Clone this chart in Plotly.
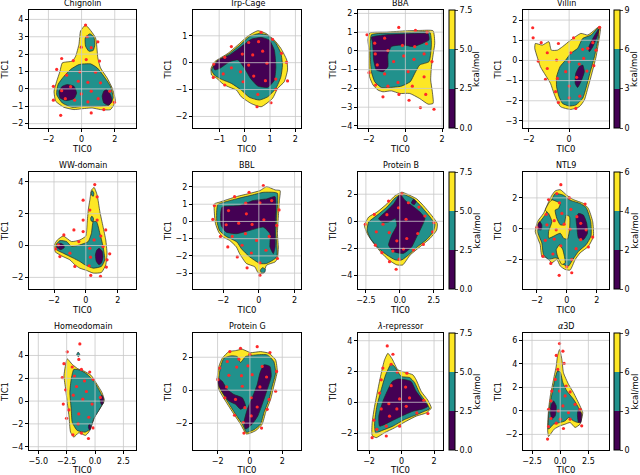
"""
Freie-Energie-Landschaften (TIC0/TIC1) für 12 Proteine, 3 Stufen + Stichprobenpunkte.
"""
import plotly.graph_objects as go

PURPLE = '#440154'
TEAL = '#21918c'
YELLOW = '#fde725'
EDGE = 'rgba(35,35,35,0.85)'
DOT = '#ff2a2a'
GRID = 'rgba(200,200,200,0.8)'
FONT = 'DejaVu Sans'

NAMES = ['Chignolin', 'Trp-Cage', 'BBA', 'Villin',
         'WW-domain', 'BBL', 'Protein B', 'NTL9',
         'Homeodomain', 'Protein G', '<i>λ</i>-repressor', '<i>α</i>3D']

# --- Chignolin
CHIG_OUTER = [(0.24, 3.67), (0.84, 2.94), (0.98, 1.79), (1.14, 1.21), (1.54, 0.63), (1.84, 0.06), (2.04, -0.71),
              (1.74, -1.19), (1.14, -1.19), (0.64, -1.10), (-0.06, -1.15), (-0.46, -1.19), (-1.06, -1.06),
              (-1.56, -0.71), (-1.66, -0.13), (-1.5, 0.44), (-1.3, 1.02), (-1.16, 1.5), (-0.56, 1.6),
              (-0.36, 1.88), (-0.16, 2.56), (-0.06, 3.33)]
CHIG_MID = [
    [(-0.16, 1.4), (0.54, 1.44), (0.94, 1.21), (1.34, 0.73), (1.74, 0.15), (1.9, -0.52), (1.64, -0.94),
     (0.94, -1.0), (0.14, -1.0), (-0.56, -1.06), (-1.16, -0.81), (-1.5, -0.33), (-1.42, 0.25),
     (-1.06, 0.73), (-0.66, 1.12)],
    [(0.5, 3.17), (0.74, 2.98), (0.8, 2.56), (0.7, 2.21), (0.44, 2.17), (0.24, 2.46), (0.22, 2.94)],
]
CHIG_LOW = [
    [(-0.86, 0.25), (-0.46, 0.15), (-0.3, -0.23), (-0.46, -0.56), (-0.96, -0.67), (-1.3, -0.52),
     (-1.36, -0.13), (-1.16, 0.15)],
    [(1.5, -0.04), (1.74, -0.33), (1.84, -0.71), (1.64, -0.94), (1.34, -0.81), (1.24, -0.42), (1.34, -0.13)],
]
CHIG_DOTS = [(0.24, 3.67), (0.34, 3.0), (0.98, 2.71), (0.58, 2.37), (-0.02, 2.4), (-1.2, 1.75), (-0.5, 1.63),
             (0.28, 1.69), (1.08, 1.6), (-1.5, 1.12), (-0.1, 0.98), (0.84, 0.96), (-0.9, 0.79), (-0.2, 0.44),
             (0.38, 0.38), (1.14, 0.35), (-1.7, 0.15), (-0.66, 0.13), (-1.2, -0.1), (0.58, -0.13),
             (-0.02, -0.29), (1.7, -0.13), (-1.7, -0.65), (-0.98, -0.56), (-0.42, -0.65), (0.38, -0.75),
             (1.0, -0.56), (1.98, -0.77), (1.34, -1.19), (0.58, -1.38), (-1.26, -1.52)]

# --- Trp-Cage
TRP_OUTER = [(-1.32, -0.21), (-1.17, 0.04), (-0.65, 0.35), (-0.19, 0.72), (0.13, 0.99), (0.52, 1.19),
             (0.84, 1.09), (1.17, 0.84), (1.43, 0.53), (1.66, 0.1), (1.69, -0.27), (1.56, -0.71), (1.3, -0.96),
             (1.1, -1.33), (0.65, -1.64), (0.26, -1.52), (-0.13, -1.27), (-0.32, -1.02), (-0.58, -0.92),
             (-0.84, -0.8), (-1.1, -0.58), (-1.3, -0.46)]
TRP_MID = [
    [(-1.3, -0.27), (-1.1, 0.04), (-0.58, 0.35), (-0.13, 0.7), (0.19, 0.97), (0.58, 1.09), (0.91, 1.02),
     (1.23, 0.72), (1.43, 0.35), (1.49, -0.09), (1.43, -0.52), (1.23, -0.96), (0.91, -1.27), (0.58, -1.39),
     (0.19, -1.29), (-0.13, -1.02), (-0.52, -0.77), (-0.91, -0.62), (-1.19, -0.46)],
]
TRP_LOW = [
    [(-1.23, -0.15), (-1.04, 0.1), (-0.58, 0.29), (-0.13, 0.6), (0.26, 0.87), (0.65, 0.94), (0.97, 0.84),
     (1.17, 0.47), (1.23, -0.15), (1.17, -0.65), (0.91, -0.92), (0.52, -0.87), (0.23, -0.58), (0.0, -0.21),
     (-0.26, 0.1), (-0.58, 0.04), (-0.97, -0.21), (-1.17, -0.27)],
]
TRP_DOTS = [(0.65, 1.13), (0.16, 0.75), (0.55, 0.78), (1.1, 0.87), (-0.52, 0.6), (-0.09, 0.32), (0.32, 0.29),
            (0.71, 0.43), (1.45, 0.35), (-0.78, 0.2), (-1.21, -0.05), (0.16, -0.09), (0.88, -0.02),
            (1.65, 0.01), (-0.52, -0.19), (-0.16, -0.34), (-0.84, -0.42), (-1.23, -0.55), (0.36, -0.5),
            (1.23, -0.61), (-0.06, -0.71), (0.82, -0.67), (1.69, -0.68), (-0.78, -0.83), (1.23, -0.99),
            (0.52, -1.18), (1.04, -1.49), (0.49, -1.64)]

# --- BBA
BBA_OUTER = [(-1.95, 0.95), (-1.04, 1.0), (0.05, 1.07), (0.78, 1.09), (1.51, 1.07), (1.6, 0.41), (1.51, -0.21),
             (1.42, -0.84), (1.38, -1.55), (1.47, -2.18), (1.51, -2.8), (1.24, -2.84), (0.78, -2.54),
             (0.24, -2.27), (-0.31, -2.27), (-0.76, -2.13), (-1.22, -2.18), (-1.49, -2.09), (-1.76, -1.82),
             (-1.95, -1.38), (-1.98, -0.84), (-1.98, 0.05), (-2.04, 0.59)]
BBA_MID = [
    [(-1.85, 0.86), (-1.04, 0.95), (0.05, 0.98), (1.33, 1.0), (1.42, 0.41), (1.29, -0.57), (0.78, -0.75),
     (0.51, -1.2), (0.27, -1.64), (-0.22, -1.88), (-0.85, -1.95), (-1.31, -1.95), (-1.67, -1.64),
     (-1.85, -1.11), (-1.91, -0.3), (-1.91, 0.41)],
]
BBA_LOW = [
    [(-1.85, 0.73), (-1.04, 0.86), (0.05, 0.91), (1.24, 0.91), (1.29, 0.59), (0.96, 0.41), (0.42, 0.23),
     (-0.13, 0.32), (-0.76, 0.23), (-0.95, -0.21), (-0.95, -0.84), (-1.22, -1.11), (-1.58, -1.02),
     (-1.73, -0.48), (-1.76, 0.05), (-1.8, 0.5)],
]
BBA_DOTS = [(-0.36, 1.25), (0.55, 1.09), (1.18, 1.0), (-2.09, 0.86), (-1.13, 0.68), (-1.67, 0.41),
            (-0.16, 0.29), (0.51, 0.23), (1.15, 0.38), (-0.95, 0.02), (-1.64, -0.16), (1.02, -0.16),
            (-0.09, -0.27), (-0.64, -0.57), (0.47, -0.45), (1.45, -0.57), (-1.53, -0.75), (-1.98, -1.16),
            (0.15, -1.11), (-1.13, -1.23), (1.02, -1.38), (-0.4, -1.68), (-1.62, -1.82), (-0.95, -1.88),
            (0.38, -1.88), (-0.35, -2.32), (1.11, -2.32), (-1.22, -2.45), (0.2, -2.63), (0.82, -3.02),
            (1.56, -3.11)]

# --- Villin
VIL_OUTER = [(-1.67, 0.84), (-1.33, 0.76), (-1.0, 0.93), (-0.88, 0.51), (-0.58, 0.51), (-0.33, 0.68),
             (0.08, 1.01), (0.58, 1.34), (0.92, 1.26), (1.25, 1.5), (1.42, 1.64), (1.55, 1.67), (1.5, 1.17),
             (1.33, 0.18), (1.08, -0.81), (0.92, -1.39), (0.75, -1.97), (0.5, -2.3), (0.08, -2.43),
             (-0.42, -2.3), (-0.58, -2.05), (-0.75, -1.64), (-0.92, -1.14), (-1.17, -0.73), (-1.42, -0.31),
             (-1.58, 0.18), (-1.7, 0.6)]
VIL_MID = [
    [(0.08, 0.35), (0.42, 0.6), (0.67, 1.09), (1.08, 1.26), (1.42, 1.59), (1.45, 1.17), (1.25, 0.18),
     (1.0, -0.73), (0.83, -1.39), (0.67, -1.88), (0.33, -2.21), (0.0, -2.26), (-0.33, -2.13), (-0.5, -1.8),
     (-0.62, -1.31), (-0.62, -0.81), (-0.45, -0.31), (-0.17, 0.02)],
]
VIL_LOW = [
    [(0.67, -0.23), (0.75, -0.56), (0.58, -1.06), (0.42, -1.34), (0.3, -1.14), (0.33, -0.64), (0.5, -0.31)],
    [(1.5, 1.59), (1.38, 1.17), (1.17, 0.68), (1.0, 0.43), (0.95, 0.6), (1.17, 1.09), (1.42, 1.5)],
]
VIL_DOTS = [(-1.8, 1.62), (1.5, 1.64), (-1.78, 1.12), (0.22, 1.12), (-1.38, 0.88), (-0.53, 0.84), (1.17, 0.88),
            (0.92, 0.6), (-1.08, 0.38), (0.08, 0.38), (0.67, 0.55), (1.33, 0.51), (-1.53, -0.03), (-0.62, 0.02),
            (0.72, 0.1), (0.0, -0.07), (0.5, -0.18), (-1.08, -0.4), (1.22, -0.26), (-0.17, -0.56), (0.88, -0.53),
            (-1.17, -0.94), (-0.58, -0.89), (0.37, -0.84), (0.0, -1.27), (-0.67, -1.55), (0.53, -1.77),
            (0.0, -1.85), (-0.53, -2.08), (0.33, -2.38)]

# --- WW-domain
WW_OUTER = [(0.52, 3.65), (0.71, 3.17), (0.88, 2.13), (1.08, 1.19), (1.25, 0.35), (1.33, -0.48), (1.25, -1.21),
            (0.98, -1.69), (0.46, -1.73), (0.04, -1.56), (-0.38, -1.42), (-0.69, -1.21), (-1.0, -0.9),
            (-1.52, -0.65), (-1.94, -0.38), (-1.98, 0.04), (-1.79, 0.35), (-1.42, 0.6), (-0.9, 0.25),
            (-0.38, 0.35), (0.0, 0.6), (0.08, 1.4), (0.15, 2.23), (0.25, 2.85), (0.35, 3.48)]
WW_MID = [
    [(0.46, 1.5), (0.67, 1.5), (0.88, 0.77), (1.08, -0.06), (1.19, -0.9), (0.98, -1.31), (0.46, -1.42),
     (-0.06, -1.21), (-0.38, -1.0), (-0.79, -0.79), (-1.42, -0.48), (-1.83, -0.27), (-1.88, 0.04),
     (-1.63, 0.31), (-1.21, 0.25), (-0.9, -0.06), (-0.38, 0.04), (0.15, 0.25), (0.35, 0.77)],
    [(0.4, 3.45), (0.5, 3.3), (0.47, 3.1), (0.37, 3.15), (0.33, 3.32)],
    [(0.38, 1.85), (0.48, 1.7), (0.45, 1.5), (0.33, 1.55), (0.3, 1.72)],
]
WW_LOW = [
    [(0.83, -0.17), (1.02, -0.35), (1.08, -0.7), (0.98, -1.1), (0.83, -1.21), (0.66, -1.0), (0.6, -0.6),
     (0.68, -0.3)],
    [(-1.58, 0.14), (-1.38, 0.02), (-1.36, -0.14), (-1.58, -0.26), (-1.8, -0.14), (-1.8, 0.04)],
]
WW_DOTS = [(0.56, 3.83), (0.71, 3.06), (-0.17, 2.85), (0.25, 2.23), (-0.17, 1.6), (0.71, 1.6), (-0.75, 0.98),
           (-0.17, 0.88), (1.25, 0.98), (-1.38, 0.67), (-0.44, 0.25), (0.52, 0.35), (0.94, 0.6), (-1.73, 0.04),
           (1.08, -0.06), (-1.9, -0.21), (0.25, -0.17), (-1.0, -0.48), (1.5, -0.52), (-1.63, -0.69),
           (0.29, -0.73), (1.33, -0.9), (-0.69, -1.31), (0.21, -1.27), (1.29, -1.35), (0.31, -1.88),
           (0.92, -1.94)]

# --- BBL
BBL_OUTER = [(-2.49, 1.02), (-2.21, 1.12), (-1.26, 1.44), (-0.51, 1.63), (0.06, 1.79), (0.43, 2.02),
             (0.91, 1.83), (1.19, 1.79), (1.15, 1.21), (1.09, 0.25), (1.04, -0.71), (1.09, -1.48),
             (1.04, -2.15), (0.91, -2.35), (0.43, -2.54), (0.25, -3.02), (-0.04, -2.98), (-0.23, -2.63),
             (-0.7, -2.44), (-1.08, -1.87), (-1.26, -1.48), (-1.64, -1.1), (-2.02, -0.9), (-2.25, -0.62),
             (-2.43, -0.13), (-2.49, 0.44)]
BBL_MID = [
    [(-2.3, 0.98), (-1.26, 1.31), (-0.51, 1.5), (0.25, 1.69), (0.81, 1.69), (1.04, 1.63), (1.0, 0.25),
     (0.96, -0.71), (1.0, -2.06), (0.43, -2.44), (0.06, -2.44), (-0.51, -2.06), (-0.98, -1.58),
     (-1.23, -1.19), (-1.83, -0.87), (-2.21, -0.52), (-2.36, 0.06), (-2.36, 0.63)],
    [(0.21, -2.68), (0.36, -2.78), (0.33, -2.95), (0.15, -2.98), (0.08, -2.83)],
]
BBL_LOW = [
    [(-2.06, 0.83), (-1.08, 0.92), (-0.32, 1.21), (0.43, 1.31), (0.91, 1.44), (0.96, 0.63), (0.91, -0.52),
     (0.91, -1.48), (0.81, -1.87), (0.62, -1.48), (0.62, -0.71), (0.25, -0.33), (-0.51, -0.52),
     (-1.26, -0.71), (-1.83, -0.62), (-2.11, -0.23), (-2.15, 0.35)],
]
BBL_DOTS = [(0.25, 2.08), (-0.55, 1.69), (-1.36, 1.44), (0.06, 1.08), (-0.74, 1.06), (0.72, 1.21),
            (-2.49, 0.92), (-1.7, 0.63), (-0.7, 0.44), (1.13, 0.67), (-2.58, 0.12), (0.28, 0.1), (-1.13, -0.1),
            (-1.83, -0.19), (-0.38, -0.17), (1.0, -0.23), (-2.15, -0.87), (-0.75, -0.71), (-1.49, -0.87),
            (0.58, -0.87), (-0.13, -1.1), (-1.74, -1.48), (-0.94, -1.38), (0.4, -1.67), (-1.21, -2.06),
            (-0.42, -1.83), (1.04, -2.15), (0.06, -2.4), (-0.66, -2.69), (0.06, -3.12)]

# --- Protein B
PRB_OUTER = [(0.15, 2.15), (0.51, 2.02), (1.24, 1.66), (1.73, 1.17), (2.34, 0.44), (2.76, -0.17), (2.71, -0.66),
             (2.22, -1.27), (1.49, -1.88), (0.76, -2.49), (0.22, -3.22), (-0.22, -3.22), (-0.83, -2.85),
             (-1.32, -2.37), (-1.93, -1.63), (-2.41, -0.9), (-2.61, -0.29), (-2.29, 0.32), (-1.68, 0.68),
             (-0.95, 1.29), (-0.34, 1.9)]
PRB_MID = [
    [(0.15, 2.02), (1.0, 1.66), (1.61, 1.05), (2.22, 0.32), (2.59, -0.22), (2.46, -0.78), (1.98, -1.34),
     (1.24, -1.93), (0.63, -2.49), (0.15, -2.85), (-0.34, -2.85), (-0.95, -2.49), (-1.56, -2.0),
     (-2.17, -1.27), (-2.41, -0.66), (-2.29, -0.05), (-1.68, 0.44), (-0.95, 1.05), (-0.34, 1.73)],
]
PRB_LOW = [
    [(0.02, 1.98), (0.39, 1.54), (0.88, 1.17), (1.49, 0.68), (1.85, 0.2), (1.61, -0.41), (1.24, -1.15),
     (0.88, -1.88), (0.27, -2.37), (-0.46, -2.24), (-0.83, -1.76), (-0.59, -1.02), (-0.22, -0.29),
     (-0.34, 0.2), (-0.83, -0.05), (-1.32, -0.05), (-1.56, 0.2), (-1.07, 0.68), (-0.46, 1.29)],
    [(1.0, 1.62), (1.2, 1.45), (1.05, 1.22), (0.85, 1.35)],
]
PRB_DOTS = [(0.15, 2.02), (-0.83, 1.49), (0.63, 1.37), (-0.1, 1.0), (1.41, 1.05), (-1.88, 0.51), (-0.95, 0.49),
            (0.46, 0.15), (1.85, 0.39), (-1.24, -0.22), (2.51, -0.1), (-2.54, -0.22), (-0.78, -0.83),
            (1.32, -0.9), (-1.73, -0.78), (0.51, -1.27), (-0.22, -1.44), (2.41, -0.78), (-1.8, -1.76),
            (1.73, -1.71), (-0.51, -2.2), (0.27, -2.05), (1.0, -2.12), (-1.32, -2.32), (-0.05, -2.8),
            (-0.76, -2.98), (-0.27, -3.54)]

# --- NTL9
NTL_OUTER = [(-0.78, 2.45), (-0.44, 2.53), (0.0, 2.17), (0.44, 1.89), (1.11, 1.64), (1.44, 1.32), (1.73, 0.47),
             (1.78, -0.49), (1.44, -1.13), (0.89, -1.55), (0.56, -1.98), (0.22, -2.66), (-0.11, -2.62),
             (-0.44, -2.4), (-0.67, -1.98), (-1.0, -2.19), (-1.33, -1.87), (-1.67, -1.77), (-1.78, -1.02),
             (-2.11, -0.17), (-1.96, 0.47), (-1.56, 1.0), (-1.22, 1.74), (-1.0, 2.17)]
NTL_MID = [
    [(-0.78, 2.28), (-0.22, 2.17), (0.22, 1.85), (0.89, 1.64), (1.29, 1.38), (1.6, 0.47), (1.62, -0.45),
     (1.29, -1.02), (0.78, -1.45), (0.4, -1.98), (0.11, -2.4), (-0.22, -2.3), (-0.44, -1.98), (-0.78, -1.87),
     (-1.22, -1.98), (-1.56, -1.66), (-1.67, -0.91), (-1.96, -0.17), (-1.82, 0.4), (-1.38, 1.0),
     (-1.11, 1.64)],
]
NTL_HIGH = [
    [(-1.0, 1.87), (-0.44, 1.64), (-0.56, 1.32), (-0.78, 1.21), (-0.67, 0.68), (-0.44, 0.26), (-0.18, 0.26),
     (-0.04, 0.89), (0.18, 0.79), (0.18, -0.06), (0.04, -0.66), (-0.22, -0.6), (-0.44, -0.28), (-1.0, -0.53),
     (-1.22, -0.6), (-1.22, -0.17), (-1.0, 0.47), (-1.22, 1.0), (-1.44, 1.21), (-1.22, 1.64)],
    [(-0.49, -1.02), (-0.27, -1.34), (-0.11, -2.19), (-0.33, -2.3), (-0.62, -1.77), (-0.71, -1.34)],
]
NTL_LOW = [
    [(0.78, 1.0), (1.11, 0.89), (1.33, 0.36), (1.38, -0.28), (1.11, -0.7), (0.78, -0.6), (0.67, 0.15),
     (0.62, 0.68)],
    [(-1.82, 0.47), (-1.67, 0.26), (-1.71, -0.06), (-1.96, -0.02), (-1.96, 0.26)],
]
NTL_DOTS = [(-0.4, 2.85), (-0.67, 2.28), (0.18, 2.0), (-1.22, 1.89), (-0.49, 1.68), (1.22, 1.6), (0.27, 1.26),
            (-0.33, 1.0), (-1.38, 0.94), (0.67, 0.79), (-0.84, 0.53), (-0.18, 0.3), (0.93, 0.36), (-1.33, 0.26),
            (-2.0, 0.09), (-0.71, -0.06), (0.22, -0.02), (1.29, -0.06), (1.73, -0.53), (-1.44, -0.74),
            (-0.84, -0.66), (0.93, -0.7), (-0.4, -1.09), (0.62, -1.28), (1.44, -1.17), (-1.6, -1.77),
            (-0.93, -1.62), (0.33, -1.98), (-1.07, -2.23), (0.0, -2.45), (0.33, -2.83), (-0.51, -3.0)]

# --- Homeodomain
HOM_OUTER = [(-2.45, 3.71), (-2.01, 3.22), (-1.52, 2.84), (-0.99, 2.64), (-0.35, 2.26), (0.17, 1.48),
             (0.61, 0.75), (0.82, 0.03), (0.41, -0.7), (0.03, -1.28), (-0.26, -2.0), (-0.55, -2.72),
             (-0.85, -3.01), (-1.43, -2.78), (-1.87, -3.16), (-2.16, -2.72), (-2.3, -1.28), (-2.45, -0.12),
             (-2.59, 1.04), (-2.74, 2.2), (-2.59, 3.22)]
HOM_MID = [
    [(-1.87, 2.78), (-1.28, 2.7), (-0.7, 2.35), (-0.12, 1.77), (0.32, 1.04), (0.61, 0.46), (0.7, -0.12),
     (0.32, -0.84), (-0.12, -1.57), (-0.41, -2.43), (-0.85, -2.72), (-1.57, -2.58), (-2.01, -1.86),
     (-2.1, -0.7), (-2.22, 0.75), (-2.1, 1.91)],
    [(-1.49, 4.3), (-1.35, 4.1), (-1.45, 3.9), (-1.62, 4.05)],
]
HOM_LOW = [
    [(0.61, 0.52), (0.76, 0.2), (0.7, -0.25), (0.55, -0.3), (0.46, 0.05), (0.5, 0.4)],
    [(-0.45, -2.04), (-0.36, -2.3), (-0.45, -2.56), (-0.58, -2.35), (-0.56, -2.1)],
]
HOM_DOTS = [(-1.34, 5.01), (-2.45, 4.32), (-1.43, 3.65), (-2.74, 3.28), (-1.2, 2.78), (-2.01, 2.99),
            (-0.47, 2.55), (-1.81, 2.2), (-2.89, 2.06), (-0.93, 1.77), (-0.17, 1.91), (-1.63, 1.28),
            (-2.59, 0.99), (-0.76, 0.84), (-1.92, 0.52), (0.47, 0.32), (-1.08, 0.17), (-2.8, -0.26),
            (-0.26, -0.26), (-2.3, -0.78), (-1.43, -1.13), (-0.55, -1.42), (-2.51, -1.51), (-1.49, -2.0),
            (-0.17, -2.35), (-1.95, -2.96), (-1.2, -2.81), (-0.58, -3.28)]

# --- Protein G
PRG_OUTER = [(-1.71, 1.94), (-1.3, 2.34), (-0.89, 2.4), (-0.47, 2.48), (0.04, 2.28), (0.66, 2.34), (1.18, 2.24),
             (1.59, 1.84), (1.69, 1.14), (1.48, 0.24), (1.28, -0.56), (0.97, -1.36), (0.76, -2.06),
             (0.35, -2.46), (-0.21, -2.66), (-0.58, -2.06), (-0.99, -1.46), (-1.51, -0.66), (-1.92, 0.04),
             (-2.02, 0.74), (-1.92, 1.44)]
PRG_MID = [
    [(-1.61, 1.94), (-1.2, 2.08), (-0.78, 2.04), (-0.58, 1.68), (-0.27, 2.04), (0.35, 2.14), (1.07, 2.14),
     (1.48, 1.74), (1.59, 1.04), (1.38, 0.24), (1.18, -0.56), (0.87, -1.36), (0.66, -2.06), (0.25, -2.4),
     (-0.21, -2.56), (-0.47, -2.06), (-0.89, -1.46), (-1.4, -0.66), (-1.81, 0.04), (-1.92, 0.74),
     (-1.81, 1.44)],
]
PRG_LOW = [
    [(-2.02, 0.74), (-1.71, 0.54), (-1.4, 0.04), (-0.99, -0.26), (-0.47, -0.46), (-0.27, -0.96),
     (-0.58, -1.16), (-0.89, -0.86), (-1.3, -0.66), (-1.61, -0.26), (-1.92, 0.24)],
    [(0.87, 1.54), (1.24, 1.44), (1.32, 0.84), (1.07, 0.04), (0.76, -0.86), (0.49, -1.56), (0.14, -2.06),
     (-0.27, -2.36), (-0.37, -1.96), (-0.16, -1.16), (0.14, -0.46), (0.45, 0.34), (0.62, 1.04)],
]
PRG_DOTS = [(0.45, 2.64), (-0.58, 2.54), (-1.24, 2.34), (1.24, 2.28), (0.0, 2.18), (-0.68, 1.88), (-1.4, 1.74),
            (-0.12, 1.48), (-0.82, 1.4), (1.65, 1.14), (0.76, 1.44), (-1.86, 1.34), (0.14, 0.94), (-1.3, 0.9),
            (-0.52, 0.88), (1.03, 0.8), (-1.98, 0.64), (-0.47, 0.24), (0.62, 0.2), (-1.44, 0.2), (1.59, -0.06),
            (0.08, -0.46), (-1.55, -0.46), (-0.89, -0.56), (1.18, -0.56), (-0.31, -1.06), (0.45, -1.02),
            (1.07, -1.16), (-0.95, -1.52), (0.08, -1.56), (-0.41, -1.96), (0.72, -2.3), (-0.37, -2.6)]

# --- lambda-repressor
LAM_OUTER = [(-0.84, 3.18), (-0.57, 2.8), (-0.23, 2.11), (0.25, 1.94), (0.7, 1.78), (0.9, 1.46), (1.21, 0.71),
             (1.62, 0.13), (1.83, -0.37), (1.52, -0.69), (0.9, -0.9), (0.29, -1.23), (-0.43, -1.66),
             (-1.05, -1.98), (-1.56, -2.3), (-1.81, -2.15), (-1.81, -1.33), (-1.66, -0.26), (-1.46, 0.82),
             (-1.25, 1.89), (-1.05, 2.75)]
LAM_MID = [
    [(-0.64, 2.49), (-0.43, 2.32), (-0.02, 1.68), (0.49, 1.61), (0.8, 1.29), (1.11, 0.6), (1.52, 0.0),
     (1.72, -0.43), (1.42, -0.58), (0.8, -0.86), (0.18, -1.12), (-0.53, -1.55), (-1.15, -1.81),
     (-1.6, -1.98), (-1.66, -1.33), (-1.52, -0.26), (-1.25, 0.82), (-0.98, 1.78)],
]
LAM_LOW = [
    [(-0.23, 1.51), (0.25, 1.46), (0.59, 1.35), (0.9, 0.71), (1.21, 0.28), (1.62, -0.26), (1.31, -0.43),
     (0.7, -0.58), (0.08, -0.86), (-0.64, -1.23), (-1.35, -1.55), (-1.4, -0.9), (-1.15, 0.06),
     (-0.84, 0.82), (-0.57, 1.35)],
]
LAM_DOTS = [(-0.88, 3.66), (-0.53, 3.12), (-1.15, 2.22), (-0.64, 2.47), (-0.27, 1.96), (0.33, 1.89),
            (-1.25, 1.46), (-0.64, 1.08), (0.25, 0.99), (-1.35, 0.6), (-0.12, 0.22), (0.49, 0.28), (1.37, 0.13),
            (-0.78, -0.09), (-1.25, -0.43), (-0.29, -0.43), (0.29, -0.26), (0.94, -0.69), (1.62, -0.73),
            (-0.74, -0.9), (-1.7, -1.16), (-0.12, -1.55), (-0.94, -1.55), (-1.52, -1.76), (-0.94, -2.19),
            (-1.81, -2.3)]

# --- alpha3D
A3D_OUTER = [(-0.06, 5.23), (0.15, 4.38), (0.29, 3.25), (0.74, 2.26), (1.18, 1.55), (1.76, 0.42), (2.0, -0.14),
             (1.76, -1.13), (1.32, -1.41), (0.88, -0.99), (0.44, -1.13), (0.0, -1.27), (-0.53, -1.55),
             (-1.03, -2.18), (-1.12, -1.55), (-1.03, 0.14), (-0.88, 1.27), (-0.59, 2.68), (-0.35, 3.81),
             (-0.24, 4.66)]
A3D_MID = [
    [(-0.24, 3.39), (0.0, 3.31), (0.24, 2.4), (0.59, 1.69), (1.18, 0.99), (1.62, 0.28), (1.82, -0.42),
     (1.62, -0.99), (1.18, -0.85), (0.74, -0.56), (0.44, -0.85), (0.0, -0.99), (-0.59, -1.13),
     (-1.03, -1.55), (-1.03, -0.42), (-0.88, 0.71), (-0.65, 1.84), (-0.44, 2.82)],
]
A3D_LOW = [
    [(-0.59, 0.85), (-0.35, 0.42), (-0.44, -0.42), (-0.74, -0.71), (-0.88, 0.0), (-0.79, 0.56)],
    [(1.71, 0.14), (1.91, -0.28), (1.82, -0.99), (1.62, -0.99), (1.53, -0.42), (1.56, 0.0)],
]
A3D_DOTS = [(-0.06, 5.73), (0.24, 5.08), (-0.35, 4.72), (0.35, 4.04), (-0.21, 3.53), (-0.44, 2.68), (0.53, 2.12),
            (-0.74, 1.69), (-0.06, 1.69), (0.88, 1.61), (0.44, 1.27), (-0.82, 0.85), (1.32, 0.56), (0.24, 0.42),
            (-1.03, 0.14), (-0.15, 0.0), (0.74, -0.14), (1.76, 0.14), (-0.82, -0.65), (0.0, -0.71),
            (0.88, -0.71), (-0.35, -1.05), (1.91, -1.27), (-1.03, -1.33), (0.29, -1.5), (-1.12, -2.4)]

OUTERS = [CHIG_OUTER, TRP_OUTER, BBA_OUTER, VIL_OUTER, WW_OUTER, BBL_OUTER,
          PRB_OUTER, NTL_OUTER, HOM_OUTER, PRG_OUTER, LAM_OUTER, A3D_OUTER]
MIDS = [CHIG_MID, TRP_MID, BBA_MID, VIL_MID, WW_MID, BBL_MID,
        PRB_MID, NTL_MID, HOM_MID, PRG_MID, LAM_MID, A3D_MID]
LOWS = [CHIG_LOW, TRP_LOW, BBA_LOW, VIL_LOW, WW_LOW, BBL_LOW,
        PRB_LOW, NTL_LOW, HOM_LOW, PRG_LOW, LAM_LOW, A3D_LOW]
HIGHS = {7: NTL_HIGH}  # gelbe Einschlüsse über Türkis
DOTS = [CHIG_DOTS, TRP_DOTS, BBA_DOTS, VIL_DOTS, WW_DOTS, BBL_DOTS,
        PRB_DOTS, NTL_DOTS, HOM_DOTS, PRG_DOTS, LAM_DOTS, A3D_DOTS]

X_RANGES = [[-3.17, 3.28], [-2.03, 2.22], [-2.58, 2.05], [-2.28, 1.97],
            [-3.57, 3.15], [-3.69, 2.36], [-3.08, 3.18], [-2.93, 2.82],
            [-5.82, 3.61], [-3.52, 3.16], [-2.68, 2.55], [-3.3, 4.33]]
Y_RANGES = [[-2.25, 4.54], [-2.43, 1.96], [-4.11, 2.18], [-3.35, 2.5],
            [-2.73, 4.62], [-3.92, 2.87], [-5.0, 3.64], [-3.88, 3.67],
            [-4.29, 5.97], [-3.63, 3.47], [-3.1, 4.5], [-3.33, 6.63]]
X_TICKS = [[-2, 0, 2], [-1, 0, 1, 2], [-2, 0, 2], [-2, 0],
           [-2, 0, 2], [-2, 0, 2], [-2.5, 0, 2.5], [-2, 0, 2],
           [-5, -2.5, 0, 2.5], [-2, 0, 2], [-2, 0, 2], [-2.5, 0, 2.5]]
Y_TICKS = [[-2, -1, 0, 1, 2, 3, 4], [-2, -1, 0, 1], [-4, -3, -2, -1, 0, 1, 2], [-3, -2, -1, 0, 1, 2],
           [-2, 0, 2, 4], [-3, -2, -1, 0, 1, 2], [-4, -2, 0, 2], [-2, 0, 2],
           [-4, -2, 0, 2, 4], [-2, 0, 2], [-2, 0, 2, 4], [-2, 0, 2, 4, 6]]
X_FMT = {6: '.1f', 8: '.1f', 11: '.1f'}

# Farbskalen (kcal/mol) für Spalten 3 und 4
CBAR_TICKS = {2: [0, 2.5, 5, 7.5], 3: [0, 3, 6, 9],
              6: [0, 2.5, 5, 7.5], 7: [0, 2, 4, 6],
              10: [0, 2.5, 5, 7.5], 11: [0, 3, 6, 9]}
CBAR_LABEL = 'kcal/mol'

# Pixel-Layout (640x475)
W, H = 640, 475
COL_PX = [(29, 136), (193, 301), (358, 443), (523, 609)]
ROW_PX = [(10, 128), (172, 289), (333, 450)]
CBAR_X_PX = {2: 449, 3: 614}
CBAR_LABEL_PX = {2: 476, 3: 634}

DISCRETE = [[0, PURPLE], [1 / 3, PURPLE], [1 / 3, TEAL], [2 / 3, TEAL], [2 / 3, YELLOW], [1, YELLOW]]
TXT = dict(size=8.5, family=FONT, color='black')
TICK_TXT = dict(size=8, family=FONT, color='black')


def poly_trace(pts, color, xa, ya):
    xs = [p[0] for p in pts] + [pts[0][0]]
    ys = [p[1] for p in pts] + [pts[0][1]]
    return go.Scatter(
        x=xs, y=ys, mode='lines', fill='toself', fillcolor=color,
        line=dict(color=EDGE, width=0.8, shape='spline', smoothing=0.5),
        xaxis=xa, yaxis=ya, hoverinfo='skip', showlegend=False,
    )


fig = go.Figure()
shapes = []
annotations = []
layout = {}

for i, name in enumerate(NAMES):
    r, c = divmod(i, 4)
    sfx = '' if i == 0 else str(i + 1)
    xa, ya = 'x' + sfx, 'y' + sfx
    x0, x1 = COL_PX[c]
    y0, y1 = ROW_PX[r]

    fig.add_trace(poly_trace(OUTERS[i], YELLOW, xa, ya))
    for p in MIDS[i]:
        fig.add_trace(poly_trace(p, TEAL, xa, ya))
    for p in HIGHS.get(i, []):
        fig.add_trace(poly_trace(p, YELLOW, xa, ya))
    for p in LOWS[i]:
        fig.add_trace(poly_trace(p, PURPLE, xa, ya))

    fig.add_trace(go.Scatter(
        x=[d[0] for d in DOTS[i]], y=[d[1] for d in DOTS[i]],
        mode='markers', marker=dict(color=DOT, size=3.2, line=dict(width=0)),
        xaxis=xa, yaxis=ya, hoverinfo='skip', showlegend=False,
    ))

    if i in CBAR_TICKS:
        ticks = CBAR_TICKS[i]
        fig.add_trace(go.Scatter(
            x=[None], y=[None], mode='markers', xaxis=xa, yaxis=ya,
            showlegend=False, hoverinfo='skip',
            marker=dict(
                color=[0], cmin=ticks[0], cmax=ticks[-1], colorscale=DISCRETE, showscale=True,
                colorbar=dict(
                    x=CBAR_X_PX[c] / W, xanchor='left', xpad=0, ypad=0,
                    y=1 - (y0 + y1) / 2 / H, yanchor='middle',
                    len=(y1 - y0) / H, lenmode='fraction',
                    thickness=6, thicknessmode='pixels',
                    outlinewidth=1, outlinecolor='black',
                    tickvals=ticks, tickformat='.1f' if ticks[-1] == 7.5 else 'd',
                    ticks='outside', ticklen=3, tickwidth=1,
                    tickfont=TICK_TXT,
                ),
            ),
        ))
        annotations.append(dict(
            text=CBAR_LABEL, x=CBAR_LABEL_PX[c] / W, y=1 - (y0 + y1) / 2 / H,
            xref='paper', yref='paper', xanchor='center', yanchor='middle',
            textangle=-90, showarrow=False, font=TXT,
        ))

    axis_common = dict(
        showline=True, mirror=True, linecolor='black', linewidth=1,
        ticks='outside', ticklen=3, tickwidth=1, tickcolor='black',
        showgrid=False, zeroline=False, tickfont=TICK_TXT,
    )
    layout['xaxis' + sfx] = dict(
        axis_common, domain=[x0 / W, x1 / W], range=X_RANGES[i], anchor=ya,
        tickvals=X_TICKS[i], tickformat=X_FMT.get(i, ''),
        title=dict(text='TIC0', standoff=3, font=TXT),
    )
    layout['yaxis' + sfx] = dict(
        axis_common, domain=[1 - y1 / H, 1 - y0 / H], range=Y_RANGES[i], anchor=xa,
        tickvals=Y_TICKS[i],
        title=dict(text='TIC1', standoff=2, font=TXT),
    )

    # Gitterlinien über den Flächen
    for t in X_TICKS[i]:
        shapes.append(dict(type='line', xref=xa, yref=ya + ' domain', x0=t, x1=t, y0=0, y1=1,
                           line=dict(color=GRID, width=1), layer='above'))
    for t in Y_TICKS[i]:
        shapes.append(dict(type='line', xref=xa + ' domain', yref=ya, x0=0, x1=1, y0=t, y1=t,
                           line=dict(color=GRID, width=1), layer='above'))

    annotations.append(dict(
        text=name, x=(x0 + x1) / 2 / W, y=1 - y0 / H, xref='paper', yref='paper',
        xanchor='center', yanchor='bottom', yshift=0, showarrow=False,
        font=dict(size=8, family=FONT, color='black'),
    ))

fig.update_layout(
    **layout,
    shapes=shapes,
    annotations=annotations,
    width=W, height=H,
    margin=dict(l=0, r=0, t=0, b=0, autoexpand=False),
    plot_bgcolor='white', paper_bgcolor='white',
    font=dict(family=FONT, color='black'),
    showlegend=False,
)

# Seitenrand des Browsers entfernen, damit die Pixelpositionen stimmen
fig.write_html("out.html", config={'displayModeBar': False},
               post_script="document.body.style.margin='0';")
